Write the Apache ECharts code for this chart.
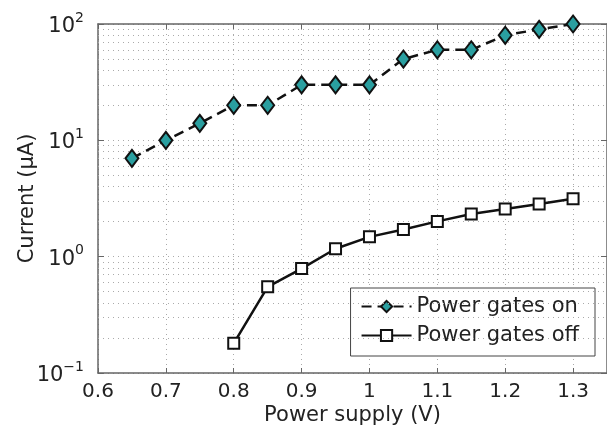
<!DOCTYPE html>
<html>
<head>
<meta charset="utf-8">
<script src="https://cdn.jsdelivr.net/npm/echarts@6/dist/echarts.min.js"></script>
<style>html,body{margin:0;padding:0;background:#fff}#c{width:607px;height:431px}</style>
</head>
<body>
<div id="c"></div>
<script>
const supplyOn = [0.65, 0.7, 0.75, 0.8, 0.85, 0.9, 0.95, 1.0, 1.05, 1.1, 1.15, 1.2, 1.25, 1.3];
const gatesOn = [7, 10, 14, 20, 20, 30, 30, 30, 50, 60, 60, 80, 90, 100];
const supplyOff = [0.8, 0.85, 0.9, 0.95, 1.0, 1.05, 1.1, 1.15, 1.2, 1.25, 1.3];
const gatesOff = [0.18, 0.55, 0.79, 1.17, 1.48, 1.71, 2.01, 2.33, 2.57, 2.84, 3.15];
const minorGrid = [0.2,0.3,0.4,0.5,0.6,0.7,0.8,0.9,2,3,4,5,6,7,8,9,20,30,40,50,60,70,80,90];
const seriesNames = ['Power gates on', 'Power gates off'];

const FONT = 'DejaVu Sans';
const TXT = '#222';
const chart = echarts.init(document.getElementById('c'), null, {renderer: 'canvas'});
const supMap = {'-1': '\u22121', '0': '0', '1': '1', '2': '2'};
chart.setOption({
  animation: false,
  backgroundColor: '#fff',
  grid: {left: 98, right: 0, top: 24, bottom: 58, containLabel: false, outerBoundsMode: 'none'},
  xAxis: [{
    type: 'value', min: 0.6, max: 1.35, interval: 0.1,
    axisLine: {show: true, onZero: false, lineStyle: {color: '#666', width: 1.5}},
    axisTick: {show: true, inside: true, length: 5, lineStyle: {color: '#666'}},
    axisLabel: {showMaxLabel: false, color: TXT, fontFamily: FONT, fontSize: 20, margin: 9,
      formatter: v => String(Math.round(v * 10) / 10)},
    splitLine: {show: true, lineStyle: {color: '#aaa', type: [1, 4], width: 1}},
    name: 'Power supply (V)', nameLocation: 'middle', nameGap: 32, nameMoveOverlap: false,
    nameTextStyle: {color: TXT, fontFamily: FONT, fontSize: 21}
  }, {
    type: 'value', min: 0.6, max: 1.35, interval: 0.1, position: 'top',
    axisLine: {show: true, lineStyle: {color: '#666', width: 1.5}},
    axisTick: {show: true, inside: true, length: 5, lineStyle: {color: '#666'}},
    axisLabel: {show: false}, splitLine: {show: false}
  }],
  yAxis: [{
    type: 'log', logBase: 10, min: 0.1, max: 100,
    axisLine: {show: true, lineStyle: {color: '#666', width: 1.5}},
    axisTick: {show: true, inside: true, length: 6, lineStyle: {color: '#666'}},
    axisLabel: {color: TXT, fontFamily: FONT, margin: 14,
      formatter: v => '{b|10}{s|' + supMap[String(Math.round(Math.log10(v)))] + '}',
      rich: {
        b: {fontFamily: FONT, fontSize: 21, color: TXT, lineHeight: 26, verticalAlign: 'bottom'},
        s: {fontFamily: FONT, fontSize: 14, color: TXT, lineHeight: 14, verticalAlign: 'top'}
      }},
    splitLine: {show: true, lineStyle: {color: '#aaa', type: [1, 4], width: 1}},
    name: 'Current (\u03bcA)', nameLocation: 'middle', nameGap: 60, nameRotate: 90, nameMoveOverlap: false,
    nameTextStyle: {color: TXT, fontFamily: FONT, fontSize: 21}
  }, {
    type: 'log', logBase: 10, min: 0.1, max: 100, position: 'right',
    axisLine: {show: true, lineStyle: {color: '#666', width: 1.5}},
    axisTick: {show: true, inside: true, length: 6, lineStyle: {color: '#666'}},
    axisLabel: {show: false}, splitLine: {show: false}
  }],
  legend: {
    orient: 'vertical', right: 12, top: 288,
    backgroundColor: '#fff', borderColor: '#444', borderWidth: 1,
    padding: [8, 16, 10, 10], itemGap: 8, itemWidth: 50, itemHeight: 14,
    textStyle: {color: TXT, fontFamily: FONT, fontSize: 21},
    data: seriesNames
  },
  series: [{
    name: seriesNames[0], type: 'line',
    data: supplyOn.map((x, i) => [x, gatesOn[i]]),
    symbol: 'diamond', symbolSize: [13, 17],
    lineStyle: {color: '#111', width: 2.5, type: [10, 6]},
    itemStyle: {color: '#2a9fa0', borderColor: '#111', borderWidth: 2},
    z: 5,
    markLine: {
      silent: true, symbol: 'none', label: {show: false},
      lineStyle: {color: '#aaa', type: [1, 4], width: 1},
      data: minorGrid.map(v => ({yAxis: v}))
    }
  }, {
    name: seriesNames[1], type: 'line',
    data: supplyOff.map((x, i) => [x, gatesOff[i]]),
    symbol: 'rect', symbolSize: 11,
    lineStyle: {color: '#111', width: 2.5, type: 'solid'},
    itemStyle: {color: '#fff', borderColor: '#111', borderWidth: 2},
    z: 5
  }]
});
</script>
</body>
</html>
